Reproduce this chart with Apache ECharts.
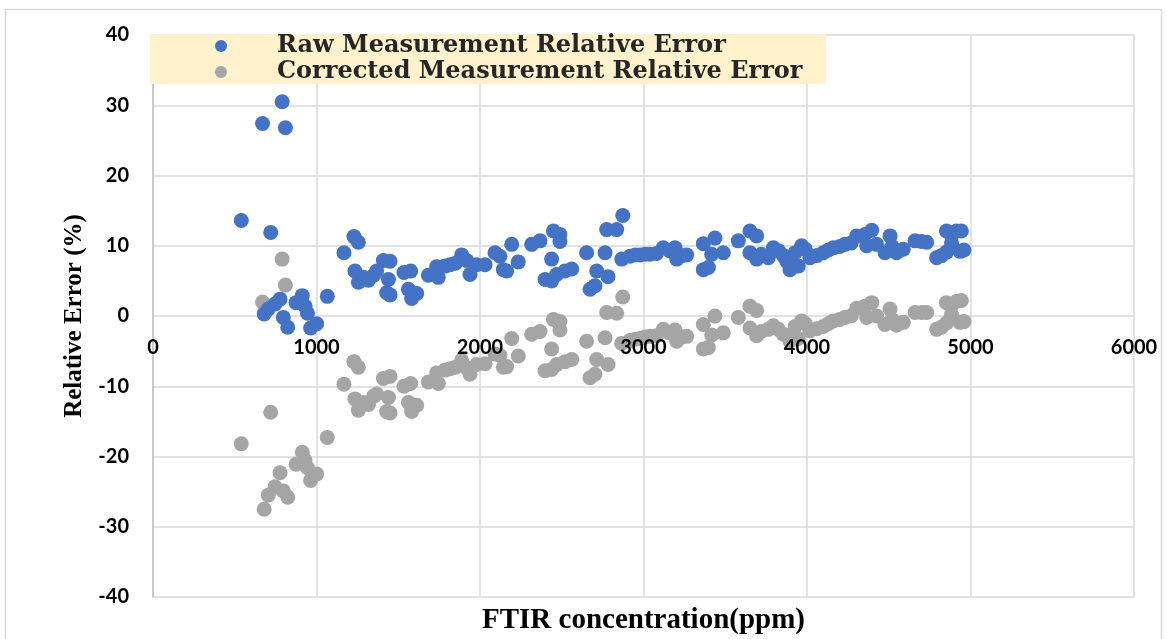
<!DOCTYPE html>
<html>
<head>
<meta charset="utf-8">
<script src="https://cdn.jsdelivr.net/npm/echarts@6/dist/echarts.min.js"></script>
<style>
  html, body { margin: 0; padding: 0; background: #ffffff; }
  #chart { width: 1167px; height: 639px; }
</style>
</head>
<body>
<div id="chart"></div>
<script>
// FTIR concentration (ppm) of each sample
const concentration = [
  540, 670, 680, 705, 720, 746, 777, 790, 797, 810,
  824, 875, 913, 930, 945, 964, 1001, 1066, 1168, 1229,
  1256, 1235, 1256, 1287, 1318, 1350, 1368, 1409, 1450, 1440,
  1429, 1450, 1535, 1576, 1562, 1582, 1613, 1684, 1735, 1745,
  1786, 1817, 1850, 1888, 1919, 1939, 1980, 2031, 2092, 2122,
  2143, 2163, 2194, 2234, 2316, 2367, 2398, 2438, 2449, 2489,
  2489, 2438, 2469, 2520, 2561, 2652, 2673, 2703, 2714, 2765,
  2783, 2775, 2836, 2873, 2867, 2917, 2950, 2979, 3010, 3040,
  3080, 3121, 3160, 3193, 3203, 3233, 3264, 3366, 3437, 3488,
  3366, 3397, 3417, 3580, 3651, 3692, 3651, 3692, 3720, 3763,
  3794, 3825, 3855, 3876, 3896, 3947, 3927, 3967, 3990, 4018,
  4060, 4100, 4130, 4161, 4200, 4232, 4270, 4304, 4355, 4396,
  4365, 4426, 4508, 4477, 4520, 4548, 4589, 4661, 4700, 4732,
  4793, 4823, 4853, 4884, 4914, 4884, 4853, 4936, 4944, 4960
];

// Relative error (%) of the raw measurement
const rawError = [
  13.6, 27.4, 0.3, 1.0, 11.9, 1.7, 2.4, 30.5, -0.2, 26.8,
  -1.6, 1.9, 2.9, 1.4, 0.4, -1.7, -1.1, 2.8, 9.0, 11.3,
  10.5, 6.4, 4.8, 5.5, 5.1, 5.8, 6.4, 7.9, 7.8, 5.2,
  3.3, 3.0, 6.2, 6.4, 3.8, 2.5, 3.2, 5.8, 7.0, 5.5,
  7.1, 7.3, 7.5, 8.7, 7.9, 5.9, 7.3, 7.3, 9.0, 8.5,
  6.6, 6.4, 10.2, 7.7, 10.2, 10.7, 5.2, 8.1, 12.1, 11.6,
  10.6, 5.0, 5.9, 6.4, 6.7, 9.0, 3.8, 4.3, 6.4, 9.0,
  5.6, 12.3, 12.3, 14.3, 8.1, 8.5, 8.7, 8.7, 8.8, 8.8,
  8.9, 9.7, 9.3, 9.7, 8.1, 8.6, 8.7, 10.3, 11.1, 9.0,
  6.6, 6.9, 8.8, 10.7, 12.1, 11.4, 9.0, 8.1, 8.8, 8.3,
  9.7, 9.3, 8.6, 7.8, 6.6, 7.1, 9.0, 10.0, 9.5, 8.3,
  8.6, 9.0, 9.4, 9.7, 9.9, 10.2, 10.4, 11.4, 11.6, 12.2,
  10.0, 10.2, 11.4, 9.0, 9.9, 9.0, 9.5, 10.7, 10.6, 10.5,
  8.3, 8.6, 12.1, 11.5, 12.1, 10.4, 9.1, 9.2, 12.1, 9.4
];

// Relative error (%) after correction
const correctedError = [
  -18.2, 2.0, -27.5, -25.5, -13.7, -24.3, -22.3, 8.1, -24.9, 4.4,
  -25.8, -21.1, -19.4, -20.5, -21.6, -23.4, -22.5, -17.3, -9.7, -6.5,
  -7.3, -11.8, -13.4, -12.3, -12.6, -11.4, -11.1, -8.9, -8.6, -11.6,
  -13.6, -13.8, -10.0, -9.6, -12.3, -13.6, -12.7, -9.4, -8.1, -9.6,
  -7.7, -7.5, -7.3, -6.3, -7.4, -8.3, -6.9, -6.8, -5.4, -5.6,
  -7.3, -7.2, -3.2, -5.7, -2.6, -2.2, -7.8, -4.7, -0.5, -0.8,
  -2.0, -7.6, -6.9, -6.5, -6.2, -3.6, -8.8, -8.3, -6.2, -3.1,
  -6.9, 0.5, 0.4, 2.7, -3.9, -3.5, -3.3, -3.2, -3.0, -2.9,
  -2.8, -1.9, -2.4, -2.0, -3.6, -3.0, -2.9, -1.2, 0.0, -2.4,
  -4.7, -4.5, -2.7, -0.2, 1.4, 0.8, -1.7, -2.8, -2.2, -1.9,
  -1.4, -1.9, -2.6, -2.8, -3.6, -3.2, -1.5, -0.7, -1.1, -2.1,
  -1.8, -1.5, -1.1, -0.7, -0.5, -0.2, 0.0, 1.1, 1.4, 1.9,
  -0.2, 0.0, 1.0, -1.2, -0.5, -1.3, -0.9, 0.5, 0.5, 0.5,
  -1.9, -1.6, 1.9, 1.5, 2.1, 0.2, -1.0, -0.9, 2.2, -0.8
];

const seriesNames = ['Raw Measurement Relative Error', 'Corrected Measurement Relative Error'];
const xRange = { min: 0, max: 6000, interval: 1000 };
const yRange = { min: -40, max: 40, interval: 10 };

const rawPoints = concentration.map((c, i) => [c, rawError[i]]);
const correctedPoints = concentration.map((c, i) => [c, correctedError[i]]);

// plot area
const chartHeight = 639;
const gridBox = { left: 153, right: 33, top: 35, bottom: 42 };
const gridHeight = chartHeight - gridBox.top - gridBox.bottom;
// the x tick labels hang from y = 0, so shift that axis up from the bottom edge
const xAxisOffset = -gridHeight * (0 - yRange.min) / (yRange.max - yRange.min);

// legend box stretches to the same right edge regardless of font metrics
const legendFontSize = 24;
const legendFontFamily = '"DejaVu Serif", "Liberation Serif", serif';
const measureCtx = document.createElement('canvas').getContext('2d');
measureCtx.font = 'bold ' + legendFontSize + 'px ' + legendFontFamily;
const legendTextWidth = Math.max(...seriesNames.map(n => measureCtx.measureText(n).width));
const legendLeft = 150, legendPadLeft = 65, legendIcon = 12, legendTextIndent = 45, legendBoxRight = 826;
const legendPadRight = Math.max(4, legendBoxRight -
  (legendLeft + legendPadLeft + legendIcon + 5 + legendTextIndent + legendTextWidth));

const axisLabelStyle = {
  fontFamily: 'Lato, "Open Sans", sans-serif',
  fontWeight: 'bold',
  fontSize: 20,
  color: '#000000',
  formatter: v => String(v)
};
const gridLineStyle = { color: '#d9d9d9', width: 1.5 };

const chart = echarts.init(document.getElementById('chart'), null, { renderer: 'canvas' });

chart.setOption({
  backgroundColor: '#ffffff',
  animation: false,
  grid: Object.assign({ containLabel: false, outerBoundsMode: 'none' }, gridBox),
  graphic: [{
    type: 'rect',
    z: -10,
    silent: true,
    shape: { x: 5.5, y: 9.5, width: 1156, height: 640 },
    style: { fill: 'none', stroke: '#d9d9d9', lineWidth: 1.5 }
  }],
  legend: {
    orient: 'vertical',
    left: legendLeft,
    top: 34,
    padding: [0, legendPadRight, 0, legendPadLeft],
    itemGap: 2,
    itemWidth: legendIcon,
    itemHeight: legendIcon,
    icon: 'circle',
    backgroundColor: '#fff2cc',
    data: seriesNames,
    textStyle: {
      fontFamily: legendFontFamily,
      fontWeight: 'bold',
      fontSize: legendFontSize,
      lineHeight: 24,
      padding: [0, 0, 0, legendTextIndent],
      color: '#262626'
    }
  },
  xAxis: [
    {
      // scale and vertical gridlines, behind the points
      type: 'value',
      position: 'bottom',
      min: xRange.min,
      max: xRange.max,
      interval: xRange.interval,
      axisLine: { show: false, onZero: false },
      axisTick: { show: false },
      axisLabel: { show: false },
      splitLine: { show: true, lineStyle: gridLineStyle }
    },
    {
      // tick labels on the zero line and the axis title, above the points
      type: 'value',
      position: 'bottom',
      offset: xAxisOffset,
      z: 10,
      min: xRange.min,
      max: xRange.max,
      interval: xRange.interval,
      name: 'FTIR concentration(ppm)',
      nameLocation: 'middle',
      nameGap: 290,
      nameTextStyle: {
        fontFamily: '"Liberation Serif", "Times New Roman", serif',
        fontWeight: 'bold',
        fontSize: 29,
        color: '#000000'
      },
      axisLine: { show: false, onZero: false },
      axisTick: { show: false },
      axisLabel: Object.assign({ margin: 22 }, axisLabelStyle),
      splitLine: { show: false }
    }
  ],
  yAxis: {
    type: 'value',
    min: yRange.min,
    max: yRange.max,
    interval: yRange.interval,
    name: 'Relative Error (%)',
    nameLocation: 'middle',
    nameGap: 64,
    nameTextStyle: {
      fontFamily: '"Liberation Serif", "Times New Roman", serif',
      fontWeight: 'bold',
      fontSize: 25,
      color: '#000000'
    },
    axisLine: { show: true, onZero: false, lineStyle: { color: '#c0c0c0', width: 1.5 } },
    axisTick: { show: false },
    axisLabel: Object.assign({ margin: 24 }, axisLabelStyle),
    splitLine: { show: true, lineStyle: gridLineStyle }
  },
  series: [
    {
      name: seriesNames[0],
      type: 'scatter',
      xAxisIndex: 0,
      z: 3,
      symbol: 'circle',
      symbolSize: 15,
      itemStyle: { color: '#4472c4', opacity: 1 },
      data: rawPoints
    },
    {
      name: seriesNames[1],
      type: 'scatter',
      xAxisIndex: 0,
      z: 2,
      symbol: 'circle',
      symbolSize: 15,
      itemStyle: { color: '#a5a5a5', opacity: 1 },
      data: correctedPoints
    }
  ]
});
</script>
</body>
</html>
